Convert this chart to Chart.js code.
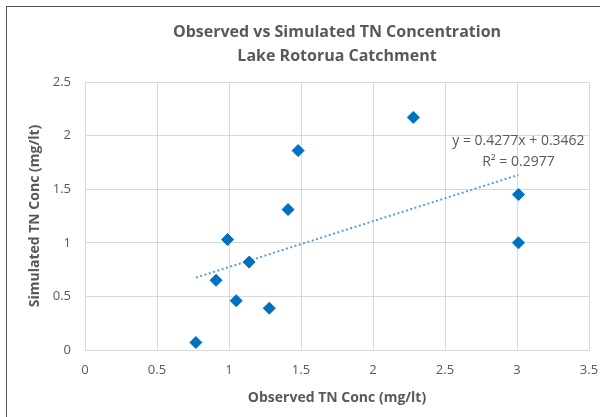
<!DOCTYPE html>
<html>
<head>
<meta charset="utf-8">
<script src="https://cdn.jsdelivr.net/npm/chart.js@4"></script>
<style>
  html, body { margin: 0; padding: 0; background: #fff; overflow: hidden; }
  #wrap { position: relative; width: 600px; height: 417px; }
  #frame { position: absolute; left: 6px; top: 6px; width: 700px; height: 500px; border: 1px solid #555; pointer-events: none; }
  canvas { position: absolute; left: 0; top: 0; }
</style>
</head>
<body>
<div id="wrap">
  <canvas id="grafico" width="600" height="417"></canvas>
  <div id="frame"></div>
</div>
<script>
// observed vs simulated values (mg/lt)
const observado = [0.77, 0.91, 0.99, 1.05, 1.14, 1.28, 1.41, 1.48, 2.28, 3.01, 3.01];
const simulado  = [0.07, 0.65, 1.03, 0.46, 0.82, 0.39, 1.31, 1.86, 2.17, 1.45, 1.00];

// linear trendline shown on the chart
const inclinacao = 0.4277;
const intercepto = 0.3462;
const textoEquacao = "y = 0.4277x + 0.3462";
const textoR2 = "R² = 0.2977";

const ticksX = [0, 0.5, 1, 1.5, 2, 2.5, 3, 3.5];
const ticksY = [0, 0.5, 1, 1.5, 2, 2.5];

const cinza = "#595959";
const fonte = "'Open Sans', 'Liberation Sans', sans-serif";

const pontos = observado.map((x, i) => ({ x: x, y: simulado[i] }));
const xMin = Math.min(...observado);
const xMax = Math.max(...observado);
const tendencia = [
  { x: xMin, y: inclinacao * xMin + intercepto },
  { x: xMax, y: inclinacao * xMax + intercepto }
];

const rotuloEquacao = {
  id: "rotuloEquacao",
  afterDatasetsDraw(chart) {
    const ctx = chart.ctx;
    const px = chart.scales.x.getPixelForValue(xMax);
    const py = chart.scales.y.getPixelForValue(tendencia[1].y);
    ctx.save();
    ctx.fillStyle = cinza;
    ctx.font = "14px " + fonte;
    ctx.textAlign = "center";
    ctx.textBaseline = "middle";
    ctx.fillText(textoEquacao, px, py - 34);
    ctx.fillText(textoR2, px, py - 13);
    ctx.restore();
  }
};

const grafico = new Chart(document.getElementById("grafico"), {
  type: "scatter",
  data: {
    datasets: [
      {
        label: "Simulated",
        data: pontos,
        pointStyle: "rectRot",
        pointRadius: 6,
        pointBackgroundColor: "#0070c0",
        pointBorderColor: "#0070c0",
        pointBorderWidth: 1
      },
      {
        label: "Linear",
        type: "line",
        data: tendencia,
        borderColor: "#5b9bd5",
        borderWidth: 2,
        borderDash: [2, 2.5],
        pointRadius: 0,
        fill: false
      }
    ]
  },
  options: {
    responsive: false,
    animation: false,
    layout: { padding: { left: 0, right: 11, top: 0, bottom: 0 } },
    plugins: {
      legend: { display: false },
      tooltip: { enabled: false },
      title: {
        display: true,
        fullSize: false,
        text: ["Observed vs Simulated TN Concentration", "Lake Rotorua Catchment"],
        color: cinza,
        font: { family: fonte, size: 16, weight: "bold", lineHeight: 1.5 },
        padding: { top: 20, bottom: 14 }
      }
    },
    scales: {
      x: {
        type: "linear",
        min: 0,
        max: 3.5,
        afterBuildTicks: (s) => { s.ticks = ticksX.map(v => ({ value: v })); },
        afterFit: (s) => { s.height = 67; s.paddingRight = 0; s.paddingLeft = 0; },
        grid: { color: "#d9d9d9", drawTicks: false },
        border: { color: "#d9d9d9" },
        ticks: { color: cinza, font: { family: fonte, size: 13 }, padding: 12, callback: (v) => String(v) },
        title: {
          display: true,
          text: "Observed TN Conc (mg/lt)",
          color: cinza,
          font: { family: fonte, size: 14, weight: "bold" },
          padding: { top: 0, bottom: 11 }
        }
      },
      y: {
        type: "linear",
        min: 0,
        max: 2.5,
        afterBuildTicks: (s) => { s.ticks = ticksY.map(v => ({ value: v })); },
        afterFit: (s) => { s.width = 85; },
        grid: { color: "#d9d9d9", drawTicks: false },
        border: { color: "#d9d9d9" },
        ticks: { color: cinza, font: { family: fonte, size: 13 }, padding: 14, callback: (v) => String(v) },
        title: {
          display: true,
          text: "Simulated TN Conc (mg/lt)",
          color: cinza,
          font: { family: fonte, size: 14, weight: "bold" },
          padding: { top: 27, bottom: 0 }
        }
      }
    }
  },
  plugins: [rotuloEquacao]
});
</script>
</body>
</html>
